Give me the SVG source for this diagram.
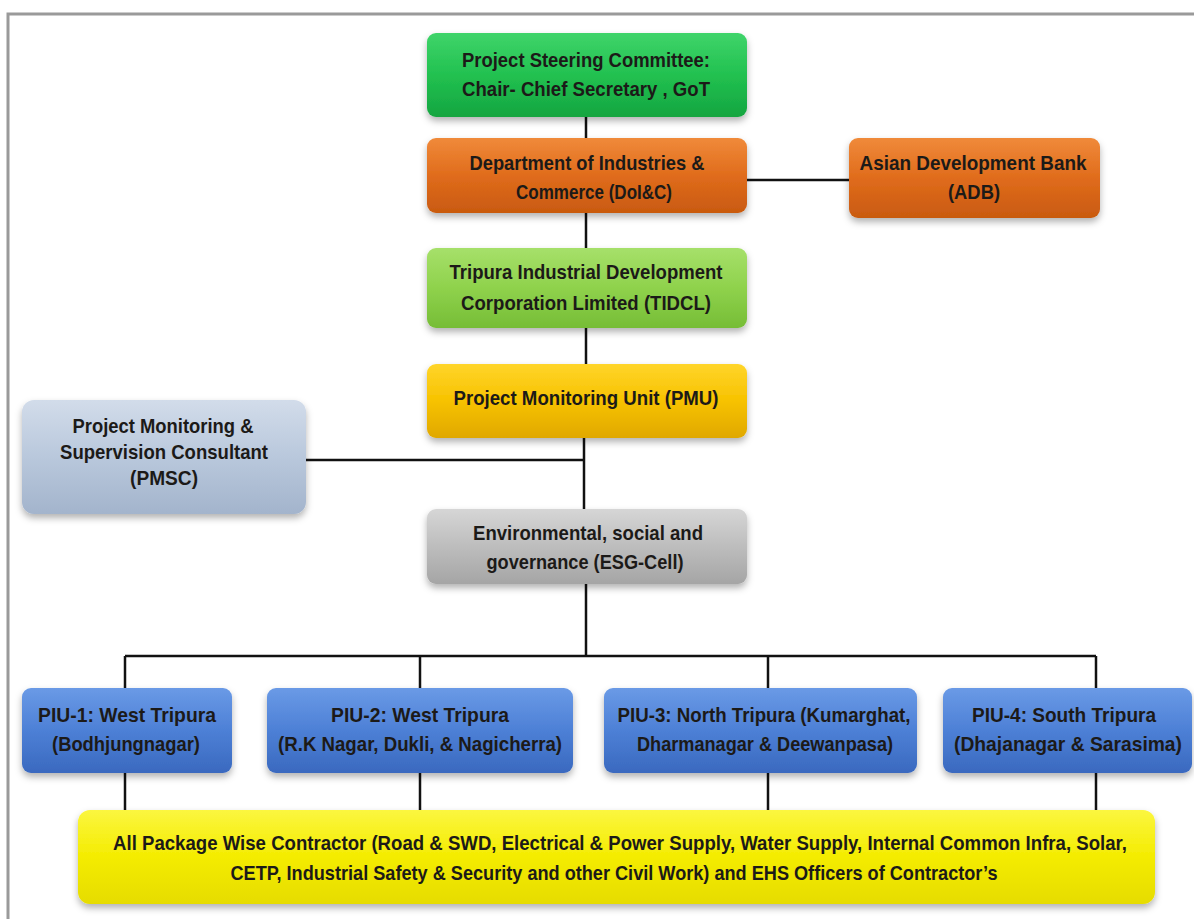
<svg xmlns="http://www.w3.org/2000/svg" width="1194" height="919" viewBox="0 0 1194 919">
<defs>
<filter id="sh" x="-10%" y="-20%" width="120%" height="150%">
<feDropShadow dx="0" dy="4" stdDeviation="3.5" flood-color="#000" flood-opacity="0.3"/>
</filter>
<linearGradient id="gGreen" x1="0" y1="0" x2="0" y2="1"><stop offset="0" stop-color="#3fd46a"/><stop offset="0.5" stop-color="#22c150"/><stop offset="1" stop-color="#14a540"/></linearGradient>
<linearGradient id="gOrange" x1="0" y1="0" x2="0" y2="1"><stop offset="0" stop-color="#f08a3a"/><stop offset="0.5" stop-color="#e06c1c"/><stop offset="1" stop-color="#c95a10"/></linearGradient>
<linearGradient id="gLime" x1="0" y1="0" x2="0" y2="1"><stop offset="0" stop-color="#a6e06a"/><stop offset="0.5" stop-color="#8fd24c"/><stop offset="1" stop-color="#76bd36"/></linearGradient>
<linearGradient id="gGold" x1="0" y1="0" x2="0" y2="1"><stop offset="0" stop-color="#ffd52a"/><stop offset="0.5" stop-color="#f7c200"/><stop offset="1" stop-color="#e0a800"/></linearGradient>
<linearGradient id="gSteel" x1="0" y1="0" x2="0" y2="1"><stop offset="0" stop-color="#d2dcea"/><stop offset="0.5" stop-color="#b9c8dc"/><stop offset="1" stop-color="#a3b4cc"/></linearGradient>
<linearGradient id="gGray" x1="0" y1="0" x2="0" y2="1"><stop offset="0" stop-color="#d6d6d6"/><stop offset="0.5" stop-color="#bdbdbd"/><stop offset="1" stop-color="#a5a5a5"/></linearGradient>
<linearGradient id="gBlue" x1="0" y1="0" x2="0" y2="1"><stop offset="0" stop-color="#6a9ae6"/><stop offset="0.5" stop-color="#4d80d6"/><stop offset="1" stop-color="#3a69bf"/></linearGradient>
<linearGradient id="gYellow" x1="0" y1="0" x2="0" y2="1"><stop offset="0" stop-color="#fbf640"/><stop offset="0.5" stop-color="#f4ec00"/><stop offset="1" stop-color="#e6dc00"/></linearGradient>
</defs>
<style>
.box{filter:url(#sh);}
.t{font-family:"Liberation Sans",Arial,sans-serif;font-weight:bold;font-size:21px;fill:#1c1a18;text-anchor:middle;}
.c{stroke:#111;stroke-width:2.5;fill:none;}
</style>
<rect x="8" y="14" width="1200" height="920" fill="#fff" stroke="#9a9a9a" stroke-width="3"/>

<g id="connectors" class="c">
<line x1="586" y1="117" x2="586" y2="139"/>
<line x1="586" y1="212" x2="586" y2="248"/>
<line x1="746" y1="180" x2="849" y2="180"/>
<line x1="586" y1="328" x2="586" y2="364"/>
<line x1="584" y1="438" x2="584" y2="509"/>
<line x1="305" y1="460" x2="584" y2="460"/>
<line x1="586" y1="584" x2="586" y2="656"/>
<line x1="125" y1="656" x2="1096" y2="656"/>
<line x1="125" y1="656" x2="125" y2="688"/>
<line x1="420" y1="656" x2="420" y2="688"/>
<line x1="768" y1="656" x2="768" y2="688"/>
<line x1="1096" y1="656" x2="1096" y2="688"/>
<line x1="125" y1="772" x2="125" y2="811"/>
<line x1="420" y1="772" x2="420" y2="811"/>
<line x1="768" y1="772" x2="768" y2="811"/>
<line x1="1096" y1="772" x2="1096" y2="811"/>
</g>

<g id="steering">
<rect class="box" x="427" y="33" width="320" height="84" rx="9" fill="url(#gGreen)"/>
<text class="t" transform="translate(586 67) scale(0.85 1)" textLength="291.8" lengthAdjust="spacingAndGlyphs">Project Steering Committee:</text>
<text class="t" transform="translate(586 96) scale(0.85 1)" textLength="291.8" lengthAdjust="spacingAndGlyphs">Chair- Chief Secretary , GoT</text>
</g>

<g id="doic">
<rect class="box" x="427" y="138" width="320" height="75" rx="9" fill="url(#gOrange)"/>
<text class="t" transform="translate(587 170) scale(0.85 1)" textLength="276.5" lengthAdjust="spacingAndGlyphs">Department of Industries &amp;</text>
<text class="t" transform="translate(594 199) scale(0.85 1)" textLength="183.5" lengthAdjust="spacingAndGlyphs">Commerce (DoI&amp;C)</text>
</g>

<g id="adb">
<rect class="box" x="849" y="138" width="251" height="80" rx="9" fill="url(#gOrange)"/>
<text class="t" transform="translate(973 170) scale(0.85 1)" textLength="267" lengthAdjust="spacingAndGlyphs">Asian Development Bank</text>
<text class="t" transform="translate(974 199) scale(0.85 1)" textLength="61.2" lengthAdjust="spacingAndGlyphs">(ADB)</text>
</g>

<g id="tidcl">
<rect class="box" x="427" y="248" width="320" height="80" rx="9" fill="url(#gLime)"/>
<text class="t" transform="translate(586 279) scale(0.85 1)" textLength="321.2" lengthAdjust="spacingAndGlyphs">Tripura Industrial Development</text>
<text class="t" transform="translate(586 310) scale(0.85 1)" textLength="294.1" lengthAdjust="spacingAndGlyphs">Corporation Limited (TIDCL)</text>
</g>

<g id="pmu">
<rect class="box" x="427" y="364" width="320" height="74" rx="9" fill="url(#gGold)"/>
<text class="t" transform="translate(586 405) scale(0.85 1)" textLength="311.8" lengthAdjust="spacingAndGlyphs">Project Monitoring Unit (PMU)</text>
</g>

<g id="pmsc">
<rect class="box" x="22" y="400" width="284" height="114" rx="12" fill="url(#gSteel)"/>
<text class="t" transform="translate(163 433) scale(0.85 1)" textLength="212.9" lengthAdjust="spacingAndGlyphs">Project Monitoring &amp;</text>
<text class="t" transform="translate(164 459) scale(0.85 1)" textLength="244.7" lengthAdjust="spacingAndGlyphs">Supervision Consultant</text>
<text class="t" transform="translate(164 485) scale(0.85 1)" textLength="80" lengthAdjust="spacingAndGlyphs">(PMSC)</text>
</g>

<g id="esg">
<rect class="box" x="427" y="509" width="320" height="75" rx="9" fill="url(#gGray)"/>
<text class="t" transform="translate(588 540) scale(0.85 1)" textLength="270.6" lengthAdjust="spacingAndGlyphs">Environmental, social and</text>
<text class="t" transform="translate(585 569) scale(0.85 1)" textLength="231.8" lengthAdjust="spacingAndGlyphs">governance (ESG-Cell)</text>
</g>

<g id="piu1">
<rect class="box" x="22" y="688" width="210" height="85" rx="9" fill="url(#gBlue)"/>
<text class="t" transform="translate(127 722) scale(0.85 1)" textLength="209.4" lengthAdjust="spacingAndGlyphs">PIU-1:  West Tripura</text>
<text class="t" transform="translate(126 751) scale(0.85 1)" textLength="174.1" lengthAdjust="spacingAndGlyphs">(Bodhjungnagar)</text>
</g>

<g id="piu2">
<rect class="box" x="267" y="688" width="306" height="85" rx="9" fill="url(#gBlue)"/>
<text class="t" transform="translate(420 722) scale(0.85 1)" textLength="209.4" lengthAdjust="spacingAndGlyphs">PIU-2:  West Tripura</text>
<text class="t" transform="translate(420 751) scale(0.85 1)" textLength="334.1" lengthAdjust="spacingAndGlyphs">(R.K Nagar, Dukli, &amp; Nagicherra)</text>
</g>

<g id="piu3">
<rect class="box" x="604" y="688" width="313" height="85" rx="9" fill="url(#gBlue)"/>
<text class="t" transform="translate(764 722) scale(0.85 1)" textLength="344.7" lengthAdjust="spacingAndGlyphs">PIU-3:  North Tripura (Kumarghat,</text>
<text class="t" transform="translate(765 751) scale(0.85 1)" textLength="301.2" lengthAdjust="spacingAndGlyphs">Dharmanagar &amp; Deewanpasa)</text>
</g>

<g id="piu4">
<rect class="box" x="943" y="688" width="249" height="85" rx="9" fill="url(#gBlue)"/>
<text class="t" transform="translate(1064 722) scale(0.85 1)" textLength="216.5" lengthAdjust="spacingAndGlyphs">PIU-4:  South Tripura</text>
<text class="t" transform="translate(1068 751) scale(0.85 1)" textLength="268.2" lengthAdjust="spacingAndGlyphs">(Dhajanagar &amp; Sarasima)</text>
</g>

<g id="contractors">
<rect class="box" x="78" y="810" width="1077" height="94" rx="12" fill="url(#gYellow)"/>
<text class="t" transform="translate(620 850) scale(0.85 1)" textLength="1192.9" lengthAdjust="spacingAndGlyphs">All Package Wise Contractor (Road &amp; SWD, Electrical &amp; Power Supply, Water Supply, Internal Common Infra, Solar,</text>
<text class="t" transform="translate(614 880) scale(0.85 1)" textLength="902.4" lengthAdjust="spacingAndGlyphs">CETP, Industrial Safety &amp; Security and other Civil Work) and EHS Officers of Contractor’s</text>
</g>
</svg>
